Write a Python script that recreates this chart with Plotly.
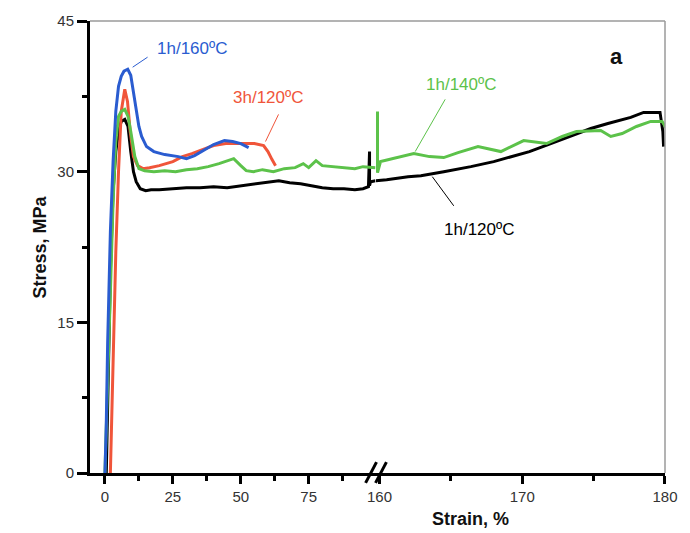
import plotly.graph_objects as go

# ---------------- data ----------------
black_strain = [0.5, 1, 1.5, 2, 3, 4, 5, 6, 7.3, 8.5, 9.5, 10.5, 11.5, 13, 15, 17, 20, 25, 30, 35,
                40, 45, 50, 55, 60, 64, 68, 72, 76, 80, 84, 88, 92, 95, 97, 97.4, 97.4, 97.8, 99.6,
                159.75, 160.5, 162, 162.9, 164.5, 166.4, 168, 169.2, 170.5, 172, 173.5, 174.8, 176,
                177.6, 178.5, 179.2, 179.65, 179.85, 179.9]
black_stress = [0, 6, 13, 20, 28, 32, 34, 35, 35.2, 34.5, 32, 30, 29, 28.3, 28.1, 28.2, 28.2, 28.3, 28.4, 28.4,
                28.5, 28.4, 28.6, 28.8, 29.0, 29.1, 28.9, 28.8, 28.6, 28.4, 28.3, 28.3, 28.2, 28.3, 28.5, 32.0, 28.6, 29.0, 29.1,
                29.1, 29.2, 29.5, 29.6, 30.0, 30.5, 31.0, 31.5, 32.0, 32.8, 33.6, 34.3, 34.8,
                35.4, 35.9, 35.9, 35.9, 34.0, 32.5]

red_strain = [2, 2.5, 3, 3.5, 4, 5, 6, 7.3, 8.3, 9.3, 10.5, 12, 14, 16.4, 20, 25, 28.5, 32, 36, 40,
              44.5, 48, 52, 55, 58.4, 60, 61.5, 62.8]
red_stress = [0, 6, 12, 17, 22, 30, 36, 38.2, 37, 34, 31.5, 30.6, 30.3, 30.4, 30.6, 31.0, 31.5, 31.8, 32.2, 32.6,
              32.8, 32.8, 32.8, 32.8, 32.6, 32.0, 31.2, 30.6]

blue_strain = [0, 0.5, 1, 1.5, 2, 3, 4, 5, 6, 7, 8.4, 9.5, 10.5, 11.5, 12.5, 13.5, 15.3, 18, 22, 27,
               30, 33, 36, 40, 44, 47, 50, 52.9]
blue_stress = [0, 5, 13, 18, 24, 31, 36, 38.5, 39.5, 40, 40.2, 39.6, 38, 36, 34.5, 33.5, 32.5, 32, 31.7, 31.5,
               31.3, 31.6, 32.1, 32.7, 33.1, 33.0, 32.8, 32.4]

green_strain = [0, 0.5, 1, 2, 3, 4, 5, 6, 7.3, 8.5, 9.5, 11, 12.5, 14.6, 18, 22, 26, 30, 34, 38,
                42, 47.4, 50, 52, 54.7, 58, 62, 66, 70, 73, 75, 77.7, 80, 84, 88, 92, 95, 99.6,
                159.75, 159.86, 159.86, 159.86, 160.07, 161, 162.4, 163.5, 164.5, 165.5, 166.9, 168.5,
                170.1, 171.7, 172.8, 173.8, 175.5, 176.2, 177, 178, 179, 179.8, 180.1]
green_stress = [0, 4, 10, 18, 27, 33, 35.5, 36, 36.2, 35.5, 34, 31.5, 30.3, 30.1, 30.0, 30.1, 30.0, 30.2, 30.3, 30.5,
                30.8, 31.3, 30.6, 30.1, 30.0, 30.2, 30.0, 30.3, 30.4, 30.8, 30.4, 31.1, 30.6, 30.5, 30.4, 30.3, 30.5, 30.4,
                30.4, 30.4, 36.0, 29.9, 31.0, 31.3, 31.8, 31.5, 31.4, 31.9, 32.5, 32.0,
                33.1, 32.8, 33.5, 34.0, 34.1, 33.5, 33.8, 34.5, 35.0, 35.0, 34.3]

y_ticks = [0, 15, 30, 45]
x1_ticks = [0, 25, 50, 75]
x2_ticks = [160, 170, 180]

BLACK = "#000000"
RED = "#f0553a"
GREEN = "#5cc24a"
BLUE = "#2a5cd0"
FONT = "Liberation Sans, Arial, sans-serif"

series = [
    ("1h/120ºC", black_strain, black_stress, BLACK),
    ("3h/120ºC", red_strain, red_stress, RED),
    ("1h/140ºC", green_strain, green_stress, GREEN),
    ("1h/160ºC", blue_strain, blue_stress, BLUE),
]

BREAK = 130  # strain values beyond this belong to the right-hand segment

fig = go.Figure()
for name, xs, ys, col in series:
    x1 = [x for x in xs if x < BREAK]
    y1 = [y for x, y in zip(xs, ys) if x < BREAK]
    x2 = [x for x in xs if x >= BREAK]
    y2 = [y for x, y in zip(xs, ys) if x >= BREAK]
    fig.add_trace(go.Scatter(x=x1, y=y1, mode="lines", name=name,
                             line=dict(color=col, width=3), xaxis="x", yaxis="y"))
    if x2:
        fig.add_trace(go.Scatter(x=x2, y=y2, mode="lines", name=name,
                                 line=dict(color=col, width=3), xaxis="x2", yaxis="y"))

# layout geometry
W, H = 690, 533
L, R, T, B = 90, 20, 16, 60
split = (378 - L) / (W - L - R)

axis_common = dict(showline=True, linecolor="black", linewidth=3, ticks="outside",
                   tickcolor="black", tickwidth=3, ticklen=8, showgrid=False, zeroline=False,
                   tickfont=dict(family=FONT, size=15, color="#333333"))

fig.update_layout(
    width=W, height=H,
    margin=dict(l=L, r=R, t=T, b=B),
    paper_bgcolor="white", plot_bgcolor="white",
    showlegend=False,
    font=dict(family=FONT),
    xaxis=dict(domain=[0, split], range=[-5.5, 99.6], tickvals=x1_ticks,
               minor=dict(dtick=12.5, tick0=0, ticks="outside", ticklen=5, tickwidth=3, tickcolor="black"),
               anchor="y", **axis_common),
    xaxis2=dict(domain=[split, 1], range=[159.72, 180], tickvals=x2_ticks,
                minor=dict(dtick=5, tick0=160, ticks="outside", ticklen=5, tickwidth=3, tickcolor="black"),
                anchor="y", **axis_common),
    yaxis=dict(range=[0, 45], tickvals=y_ticks,
               minor=dict(dtick=7.5, tick0=0, ticks="outside", ticklen=5, tickwidth=3, tickcolor="black"),
               **{**axis_common, "ticklen": 10}),
)

# gray top / right frame, break marks
fig.add_shape(type="line", xref="paper", yref="paper", x0=0, x1=1, y0=1, y1=1,
              line=dict(color="#9a9a9a", width=1.5))
fig.add_shape(type="line", xref="paper", yref="paper", x0=1, x1=1, y0=0, y1=1,
              line=dict(color="#9a9a9a", width=1.5))
pw, ph = W - L - R, H - T - B
for dx in (0, 10):
    fig.add_shape(type="line", xref="paper", yref="paper",
                  x0=(368 + dx - L) / pw, y0=-10 / ph, x1=(379 + dx - L) / pw, y1=11 / ph,
                  line=dict(color="black", width=3))

# axis titles
fig.add_annotation(text="<b>Stress, MPa</b>", xref="paper", yref="paper", x=(40 - L) / pw, y=0.5,
                   xanchor="center", yanchor="middle",
                   showarrow=False, textangle=-90, font=dict(family=FONT, size=18, color="#111"))
fig.add_annotation(text="<b>Strain, %</b>", xref="paper", yref="paper", x=(474 - L) / pw, y=-(520 - 473) / ph,
                   xanchor="center", yanchor="middle",
                   showarrow=False, font=dict(family=FONT, size=18, color="#111"))
fig.add_annotation(text="<b>a</b>", xref="x2", yref="y", x=176.6, y=41.5, showarrow=False,
                   xanchor="center", yanchor="middle",
                   font=dict(family=FONT, size=22, color="#111"))

# series labels with leader lines
labels = [
    ("1h/160ºC", BLUE, "x", 32.1, 42.3, (10.2, 40.4, 15.7, 41.4)),
    ("3h/120ºC", RED, "x", 59.9, 37.4, (59.1, 33.0, 63.9, 35.7)),
    ("1h/140ºC", GREEN, "x2", 165.7, 38.7, (162.5, 32.0, 164.6, 37.2)),
    ("1h/120ºC", BLACK, "x2", 167.0, 24.2, (163.7, 29.5, 165.2, 26.6)),
]
for text, col, xr, tx, ty, (lx0, ly0, lx1, ly1) in labels:
    fig.add_annotation(text=text, xref=xr, yref="y", x=tx, y=ty, showarrow=False,
                       xanchor="center", yanchor="middle",
                       font=dict(family=FONT, size=17, color=col))
    fig.add_shape(type="line", xref=xr, yref="y", x0=lx0, y0=ly0, x1=lx1, y1=ly1,
                  line=dict(color=col, width=1))

fig.write_html("out.html")
